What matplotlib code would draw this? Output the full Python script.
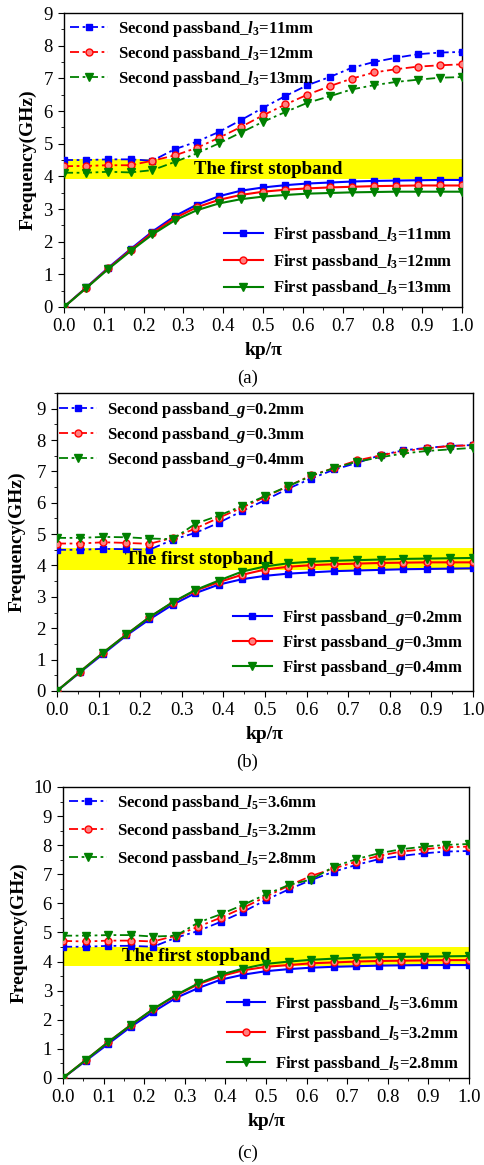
import matplotlib
matplotlib.use("Agg")
import matplotlib.pyplot as plt

# ------------------------------------------------------------------
# fonts: Times-like serif, bold math for the l3 / l5 / g labels

plt.rcParams['font.family'] = ['Liberation Serif', 'DejaVu Serif']
plt.rcParams['mathtext.fontset'] = 'custom'
plt.rcParams['mathtext.rm'] = 'Liberation Serif:bold'
plt.rcParams['mathtext.it'] = 'Liberation Serif:bold:italic'
plt.rcParams['mathtext.bf'] = 'Liberation Serif:bold'

# ------------------------------------------------------------------
# data

kp = [0.0, 0.056, 0.111, 0.167, 0.222, 0.278, 0.333, 0.389, 0.444, 0.5,
      0.556, 0.611, 0.667, 0.722, 0.778, 0.833, 0.889, 0.944, 1.0]

# (a) l3 sweep
a_first_11 = [0, 0.60, 1.20, 1.77, 2.31, 2.78, 3.13, 3.39, 3.56, 3.66, 3.73, 3.78, 3.81, 3.84, 3.86, 3.87, 3.88, 3.89, 3.89]
a_first_12 = [0, 0.59, 1.18, 1.74, 2.27, 2.72, 3.05, 3.28, 3.43, 3.53, 3.59, 3.63, 3.66, 3.68, 3.70, 3.71, 3.72, 3.72, 3.72]
a_first_13 = [0, 0.58, 1.16, 1.71, 2.22, 2.65, 2.96, 3.17, 3.30, 3.38, 3.43, 3.47, 3.49, 3.51, 3.52, 3.53, 3.53, 3.53, 3.53]
a_second_11 = [4.50, 4.50, 4.52, 4.52, 4.48, 4.83, 5.06, 5.36, 5.72, 6.10, 6.46, 6.79, 7.04, 7.32, 7.50, 7.63, 7.74, 7.79, 7.81]
a_second_12 = [4.31, 4.32, 4.34, 4.34, 4.48, 4.64, 4.87, 5.18, 5.51, 5.87, 6.20, 6.50, 6.76, 6.99, 7.18, 7.28, 7.36, 7.40, 7.43]
a_second_13 = [4.11, 4.11, 4.14, 4.12, 4.19, 4.44, 4.70, 5.01, 5.34, 5.67, 5.97, 6.25, 6.45, 6.66, 6.79, 6.89, 6.96, 7.02, 7.04]

# (b) g sweep
b_first_02 = [0, 0.60, 1.18, 1.77, 2.28, 2.75, 3.12, 3.39, 3.56, 3.67, 3.74, 3.78, 3.82, 3.84, 3.86, 3.88, 3.89, 3.90, 3.91]
b_first_03 = [0, 0.62, 1.22, 1.80, 2.35, 2.82, 3.20, 3.47, 3.70, 3.87, 3.96, 4.01, 4.04, 4.06, 4.08, 4.09, 4.10, 4.10, 4.10]
b_first_04 = [0, 0.62, 1.22, 1.80, 2.35, 2.83, 3.22, 3.52, 3.80, 3.97, 4.07, 4.12, 4.15, 4.17, 4.19, 4.21, 4.22, 4.23, 4.24]
b_second_02 = [4.50, 4.50, 4.53, 4.52, 4.50, 4.82, 5.04, 5.36, 5.73, 6.08, 6.45, 6.77, 7.06, 7.27, 7.52, 7.67, 7.75, 7.81, 7.84]
b_second_03 = [4.70, 4.70, 4.74, 4.72, 4.69, 4.88, 5.18, 5.52, 5.84, 6.18, 6.53, 6.87, 7.11, 7.35, 7.51, 7.65, 7.73, 7.81, 7.83]
b_second_04 = [4.88, 4.88, 4.91, 4.90, 4.86, 4.84, 5.33, 5.59, 5.89, 6.21, 6.53, 6.85, 7.11, 7.31, 7.45, 7.57, 7.65, 7.70, 7.75]

# (c) l5 sweep
c_first_36 = [0, 0.59, 1.17, 1.76, 2.27, 2.75, 3.09, 3.38, 3.55, 3.67, 3.74, 3.79, 3.82, 3.84, 3.86, 3.87, 3.88, 3.88, 3.88]
c_first_32 = [0, 0.62, 1.23, 1.82, 2.36, 2.83, 3.22, 3.50, 3.70, 3.82, 3.88, 3.94, 3.97, 4.00, 4.02, 4.03, 4.04, 4.05, 4.05]
c_first_28 = [0, 0.62, 1.23, 1.82, 2.37, 2.85, 3.25, 3.55, 3.76, 3.92, 4.00, 4.06, 4.10, 4.13, 4.15, 4.16, 4.17, 4.18, 4.19]
c_second_36 = [4.51, 4.51, 4.54, 4.54, 4.51, 4.82, 5.05, 5.37, 5.71, 6.12, 6.48, 6.80, 7.09, 7.32, 7.52, 7.63, 7.72, 7.78, 7.80]
c_second_32 = [4.71, 4.69, 4.72, 4.72, 4.69, 4.89, 5.20, 5.51, 5.85, 6.23, 6.61, 6.94, 7.20, 7.43, 7.63, 7.78, 7.86, 7.93, 7.95]
c_second_28 = [4.89, 4.89, 4.91, 4.91, 4.86, 4.89, 5.34, 5.63, 5.95, 6.31, 6.63, 6.82, 7.26, 7.52, 7.72, 7.86, 7.95, 8.01, 8.04]

a_labels = [r'$l_3$=11mm', r'$l_3$=12mm', r'$l_3$=13mm']
b_labels = [r'$g$=0.2mm', r'$g$=0.3mm', r'$g$=0.4mm']
c_labels = [r'$l_5$=3.6mm', r'$l_5$=3.2mm', r'$l_5$=2.8mm']

# stopband edges (GHz)
a_stop = (3.91, 4.53)
b_stop = (3.85, 4.56)
c_stop = (3.86, 4.51)

# ------------------------------------------------------------------

colors = ['#0000FF', '#FF0000', '#008000']
mfaces = ['#0000FF', '#FF8080', '#008000']
markers = ['s', 'o', 'v']
msizes = [5, 5, 6]
dashdot = (0, (5, 2, 1.5, 2))

fig = plt.figure(figsize=(4.85, 11.65), dpi=100)

panels = [
    dict(rect=[0.132, 0.7365, 0.821, 0.2523], ylim=9, yticks=range(0, 10),
         first=[a_first_11, a_first_12, a_first_13],
         second=[a_second_11, a_second_12, a_second_13],
         labels=a_labels, stop=a_stop, stop_x=0.327, caption='(a)', cap_y=0.6755,
         ylab_x=-0.07, up_anchor=(-0.01, 1.015), low_anchor=(1.0, -0.005),
         up_sp=0.3, low_sp=0.4),
    dict(rect=[0.1175, 0.4069, 0.8575, 0.2558], ylim=9.5, yticks=range(0, 10),
         first=[b_first_02, b_first_03, b_first_04],
         second=[b_second_02, b_second_03, b_second_04],
         labels=b_labels, stop=b_stop, stop_x=0.163, caption='(b)', cap_y=0.346,
         ylab_x=-0.075, up_anchor=(-0.02, 1.01), low_anchor=(1.0, 0.01),
         up_sp=0.3, low_sp=0.3),
    dict(rect=[0.130, 0.0747, 0.837, 0.2498], ylim=10, yticks=range(0, 11),
         first=[c_first_36, c_first_32, c_first_28],
         second=[c_second_36, c_second_32, c_second_28],
         labels=c_labels, stop=c_stop, stop_x=0.145, caption='(c)', cap_y=0.0103,
         ylab_x=-0.086, up_anchor=(-0.01, 1.015), low_anchor=(1.0, -0.02),
         up_sp=0.5, low_sp=0.6),
]

for p in panels:
    ax = fig.add_axes(p['rect'])

    # yellow stopband band + label
    ax.axhspan(p['stop'][0], p['stop'][1], color='#FFFF00', zorder=0, lw=0)
    ax.text(p['stop_x'], sum(p['stop']) / 2, 'The first stopband', fontsize=13.5,
            fontweight='bold', va='center', ha='left', zorder=1)

    sec_handles = []
    for i in range(3):
        h, = ax.plot(kp, p['second'][i], color=colors[i], marker=markers[i],
                     markersize=msizes[i], mfc=mfaces[i], mec=colors[i],
                     lw=1.3, linestyle=dashdot, zorder=3,
                     label='Second passband_' + p['labels'][i])
        sec_handles.append(h)
    first_handles = []
    for i in range(3):
        h, = ax.plot(kp, p['first'][i], color=colors[i], marker=markers[i],
                     markersize=msizes[i], mfc=mfaces[i], mec=colors[i],
                     lw=1.5, linestyle='-', zorder=3,
                     label='First passband_' + p['labels'][i])
        first_handles.append(h)

    leg1 = ax.legend(handles=sec_handles, loc='upper left', bbox_to_anchor=p['up_anchor'],
                     frameon=False, prop={'weight': 'bold', 'size': 12},
                     handlelength=2.3, handletextpad=0.6, labelspacing=p['up_sp'],
                     borderaxespad=0.2)
    ax.add_artist(leg1)
    ax.legend(handles=first_handles, loc='lower right', bbox_to_anchor=p['low_anchor'],
              frameon=False, prop={'weight': 'bold', 'size': 12},
              handlelength=2.3, handletextpad=0.6, labelspacing=p['low_sp'],
              borderaxespad=0.2)

    ax.set_xlim(0, 1.0)
    ax.set_ylim(0, p['ylim'])
    ax.set_xticks([i / 10 for i in range(11)])
    ax.set_xticks([i / 20 for i in range(21)], minor=True)
    ax.set_yticks(list(p['yticks']))
    ax.set_yticks([i / 2 for i in range(int(p['ylim'] * 2) + 1)], minor=True)
    ax.xaxis.set_major_formatter(matplotlib.ticker.FormatStrFormatter('%.1f'))
    ax.tick_params(which='both', direction='out', top=False, right=False, labelsize=13.5)
    ax.tick_params(which='major', length=4, pad=4)
    ax.tick_params(which='minor', length=2.5)
    for s in ax.spines.values():
        s.set_linewidth(1.0)

    ax.set_xlabel('kp/π', fontsize=14, fontweight='bold', labelpad=5)
    ax.set_ylabel('Frequency(GHz)', fontsize=14, fontweight='bold')
    ax.yaxis.set_label_coords(p['ylab_x'], 0.5)

    fig.text(0.51, p['cap_y'], p['caption'], fontsize=13.5, ha='center', va='center')

fig.savefig('out.png', dpi=100)
